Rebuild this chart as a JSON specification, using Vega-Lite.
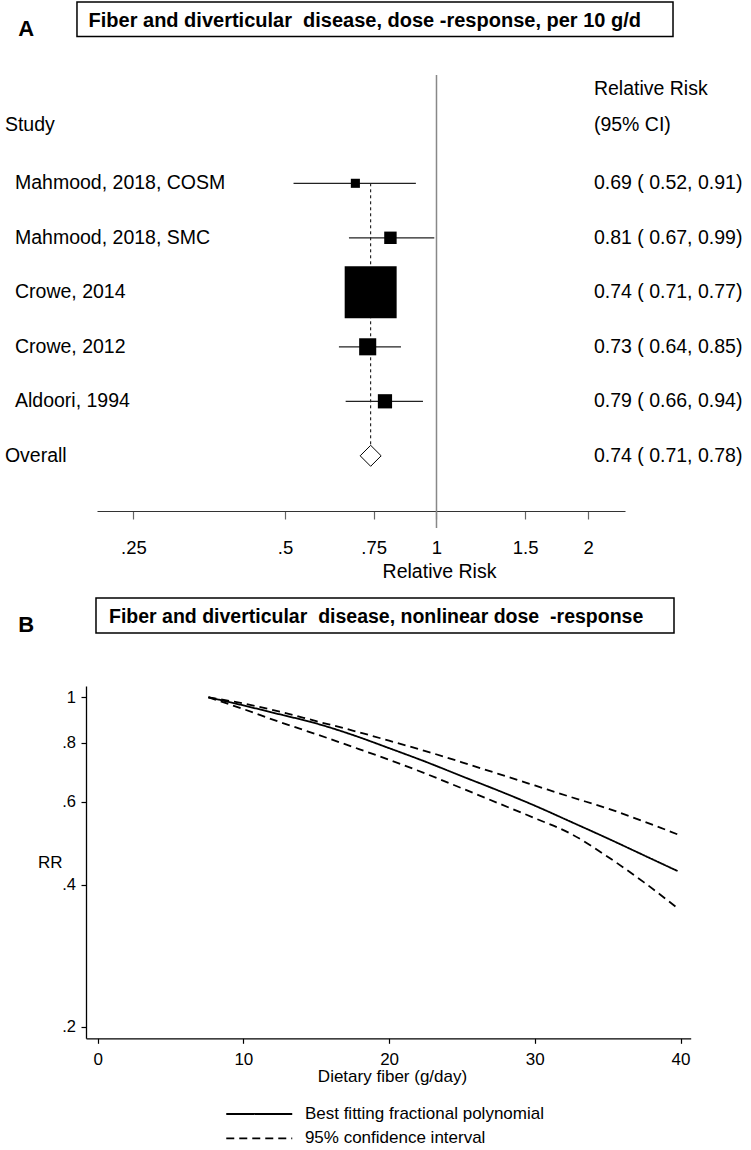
{
  "$schema": "https://vega.github.io/schema/vega-lite/v6.json",
  "padding": 0,
  "spacing": 0,
  "bounds": "flush",
  "background": "white",
  "config": {"view": {"stroke": null}, "font": "Liberation Sans", "axis": {"grid": false}},
  "datasets": {
    "studies": [
      {"study": "Mahmood, 2018, COSM", "row": 1, "rr": 0.69, "lo": 0.52, "hi": 0.91, "weight": 2.4, "label": "0.69 ( 0.52, 0.91)", "kind": "study"},
      {"study": "Mahmood, 2018, SMC", "row": 2, "rr": 0.81, "lo": 0.67, "hi": 0.99, "weight": 4.5, "label": "0.81 ( 0.67, 0.99)", "kind": "study"},
      {"study": "Crowe, 2014", "row": 3, "rr": 0.74, "lo": 0.71, "hi": 0.77, "weight": 78.7, "label": "0.74 ( 0.71, 0.77)", "kind": "study"},
      {"study": "Crowe, 2012", "row": 4, "rr": 0.73, "lo": 0.64, "hi": 0.85, "weight": 8.5, "label": "0.73 ( 0.64, 0.85)", "kind": "study"},
      {"study": "Aldoori, 1994", "row": 5, "rr": 0.79, "lo": 0.66, "hi": 0.94, "weight": 5.9, "label": "0.79 ( 0.66, 0.94)", "kind": "study"},
      {"study": "Overall", "row": 6, "rr": 0.74, "lo": 0.71, "hi": 0.78, "weight": 100, "label": "0.74 ( 0.71, 0.78)", "kind": "overall"}
    ],
    "curves": [
      {"fiber": 7.6, "rr": 1.0, "curve": "fit", "series": "Best fitting fractional polynomial"},
      {"fiber": 10, "rr": 0.961, "curve": "fit", "series": "Best fitting fractional polynomial"},
      {"fiber": 12.5, "rr": 0.920, "curve": "fit", "series": "Best fitting fractional polynomial"},
      {"fiber": 15, "rr": 0.880, "curve": "fit", "series": "Best fitting fractional polynomial"},
      {"fiber": 17.5, "rr": 0.832, "curve": "fit", "series": "Best fitting fractional polynomial"},
      {"fiber": 20, "rr": 0.780, "curve": "fit", "series": "Best fitting fractional polynomial"},
      {"fiber": 22.5, "rr": 0.730, "curve": "fit", "series": "Best fitting fractional polynomial"},
      {"fiber": 25, "rr": 0.680, "curve": "fit", "series": "Best fitting fractional polynomial"},
      {"fiber": 27.5, "rr": 0.634, "curve": "fit", "series": "Best fitting fractional polynomial"},
      {"fiber": 30, "rr": 0.589, "curve": "fit", "series": "Best fitting fractional polynomial"},
      {"fiber": 32.5, "rr": 0.544, "curve": "fit", "series": "Best fitting fractional polynomial"},
      {"fiber": 35, "rr": 0.502, "curve": "fit", "series": "Best fitting fractional polynomial"},
      {"fiber": 37.5, "rr": 0.462, "curve": "fit", "series": "Best fitting fractional polynomial"},
      {"fiber": 39.8, "rr": 0.428, "curve": "fit", "series": "Best fitting fractional polynomial"},
      {"fiber": 7.6, "rr": 1.0, "curve": "upper", "series": "95% confidence interval"},
      {"fiber": 10, "rr": 0.970, "curve": "upper", "series": "95% confidence interval"},
      {"fiber": 12.5, "rr": 0.932, "curve": "upper", "series": "95% confidence interval"},
      {"fiber": 15, "rr": 0.890, "curve": "upper", "series": "95% confidence interval"},
      {"fiber": 17.5, "rr": 0.850, "curve": "upper", "series": "95% confidence interval"},
      {"fiber": 20, "rr": 0.809, "curve": "upper", "series": "95% confidence interval"},
      {"fiber": 22.5, "rr": 0.769, "curve": "upper", "series": "95% confidence interval"},
      {"fiber": 25, "rr": 0.728, "curve": "upper", "series": "95% confidence interval"},
      {"fiber": 27.5, "rr": 0.688, "curve": "upper", "series": "95% confidence interval"},
      {"fiber": 30, "rr": 0.650, "curve": "upper", "series": "95% confidence interval"},
      {"fiber": 32.5, "rr": 0.614, "curve": "upper", "series": "95% confidence interval"},
      {"fiber": 35, "rr": 0.581, "curve": "upper", "series": "95% confidence interval"},
      {"fiber": 37.5, "rr": 0.545, "curve": "upper", "series": "95% confidence interval"},
      {"fiber": 39.8, "rr": 0.512, "curve": "upper", "series": "95% confidence interval"},
      {"fiber": 7.6, "rr": 1.0, "curve": "lower", "series": "95% confidence interval"},
      {"fiber": 10, "rr": 0.944, "curve": "lower", "series": "95% confidence interval"},
      {"fiber": 12.5, "rr": 0.886, "curve": "lower", "series": "95% confidence interval"},
      {"fiber": 15, "rr": 0.835, "curve": "lower", "series": "95% confidence interval"},
      {"fiber": 17.5, "rr": 0.785, "curve": "lower", "series": "95% confidence interval"},
      {"fiber": 20, "rr": 0.737, "curve": "lower", "series": "95% confidence interval"},
      {"fiber": 22.5, "rr": 0.689, "curve": "lower", "series": "95% confidence interval"},
      {"fiber": 25, "rr": 0.641, "curve": "lower", "series": "95% confidence interval"},
      {"fiber": 27.5, "rr": 0.596, "curve": "lower", "series": "95% confidence interval"},
      {"fiber": 30, "rr": 0.554, "curve": "lower", "series": "95% confidence interval"},
      {"fiber": 32.5, "rr": 0.513, "curve": "lower", "series": "95% confidence interval"},
      {"fiber": 35, "rr": 0.459, "curve": "lower", "series": "95% confidence interval"},
      {"fiber": 37.5, "rr": 0.405, "curve": "lower", "series": "95% confidence interval"},
      {"fiber": 39.8, "rr": 0.357, "curve": "lower", "series": "95% confidence interval"}
    ]
  },
  "vconcat": [
    {
      "width": 751,
      "height": 511,
      "layer": [
        {
          "data": {"values": [{}]},
          "mark": {"type": "rect", "fill": "white", "stroke": "black", "strokeWidth": 1.5},
          "encoding": {
            "x": {"datum": 0.1931, "type": "quantitative",
              "scale": {"type": "log", "domain": [0.21162, 2.3686], "range": [97, 625], "nice": false, "zero": false},
              "axis": {
                "values": [0.25, 0.5, 0.75, 1, 1.5, 2],
                "labelExpr": "datum.value < 1 ? substring(toString(datum.value), 1) : toString(datum.value)",
                "title": "Relative Risk", "titleX": 439, "titleY": 51, "titleAlign": "center", "titleBaseline": "top",
                "titleFontSize": 19.5, "titleFontWeight": "normal", "titleColor": "black",
                "labelFontSize": 18.5, "labelColor": "black", "labelPadding": 19, "labelFlush": false, "labelOverlap": false,
                "tickSize": 8, "tickColor": "#666666", "tickWidth": 1.2,
                "domainColor": "#333333", "domainWidth": 1.2, "grid": false
              }},
            "x2": {"datum": 2.9503},
            "y": {"datum": -2.327, "type": "quantitative", "scale": {"domain": [-2.3633, 7.0128], "reverse": true, "nice": false, "zero": false}, "axis": null},
            "y2": {"datum": -1.694}
          }
        },
        {
          "data": {"values": [{}]},
          "mark": {"type": "text", "text": "Fiber and diverticular\u00a0 disease, dose -response, per 10 g/d", "fontSize": 20, "fontWeight": "bold", "align": "left", "baseline": "middle", "color": "black"},
          "encoding": {
            "x": {"datum": 0.2036, "type": "quantitative"},
            "y": {"datum": -1.978, "type": "quantitative", "axis": null}
          }
        },
        {
          "data": {"values": [{}]},
          "mark": {"type": "text", "text": "A", "fontSize": 22, "fontWeight": "bold", "align": "center", "baseline": "middle", "color": "black"},
          "encoding": {
            "x": {"datum": 0.1531, "type": "quantitative"},
            "y": {"datum": -1.837, "type": "quantitative", "axis": null}
          }
        },
        {
          "data": {"values": [{}]},
          "mark": {"type": "text", "text": "Relative Risk", "fontSize": 19.5, "align": "left", "baseline": "middle", "color": "black"},
          "encoding": {
            "x": {"datum": 2.0544, "type": "quantitative"},
            "y": {"datum": -0.736, "type": "quantitative", "axis": null}
          }
        },
        {
          "data": {"values": [{}]},
          "mark": {"type": "text", "text": "(95% CI)", "fontSize": 19.5, "align": "left", "baseline": "middle", "color": "black"},
          "encoding": {
            "x": {"datum": 2.0544, "type": "quantitative"},
            "y": {"datum": -0.07, "type": "quantitative", "axis": null}
          }
        },
        {
          "data": {"values": [{}]},
          "mark": {"type": "text", "text": "Study", "fontSize": 19.5, "align": "left", "baseline": "middle", "color": "black"},
          "encoding": {
            "x": {"datum": 0.13889, "type": "quantitative"},
            "y": {"datum": -0.07, "type": "quantitative", "axis": null}
          }
        },
        {
          "data": {"values": [{}]},
          "mark": {"type": "rule", "color": "#888888", "strokeWidth": 1.5},
          "encoding": {
            "x": {"datum": 1, "type": "quantitative"},
            "y": {"datum": -0.987, "type": "quantitative", "axis": null},
            "y2": {"datum": 7.325}
          }
        },
        {
          "data": {"name": "studies"},
          "transform": [{"filter": "datum.kind == 'overall'"}],
          "mark": {"type": "rule", "color": "black", "strokeWidth": 1, "strokeDash": [3, 3]},
          "encoding": {
            "x": {"field": "rr", "type": "quantitative"},
            "y": {"datum": 1, "type": "quantitative", "axis": null},
            "y2": {"datum": 6.169}
          }
        },
        {
          "data": {"name": "studies"},
          "transform": [{"filter": "datum.kind == 'study'"}],
          "mark": {"type": "rule", "color": "#222222", "strokeWidth": 1.2},
          "encoding": {
            "x": {"field": "lo", "type": "quantitative"},
            "x2": {"field": "hi"},
            "y": {"field": "row", "type": "quantitative", "axis": null}
          }
        },
        {
          "data": {"name": "studies"},
          "transform": [{"filter": "datum.kind == 'study'"}],
          "mark": {"type": "point", "shape": "square", "filled": true, "color": "black", "opacity": 1},
          "encoding": {
            "x": {"field": "rr", "type": "quantitative"},
            "y": {"field": "row", "type": "quantitative", "axis": null},
            "size": {"field": "weight", "type": "quantitative", "scale": {"domain": [0, 78.7], "range": [0, 2700]}, "legend": null}
          }
        },
        {
          "data": {"name": "studies"},
          "transform": [{"filter": "datum.kind == 'overall'"}],
          "mark": {"type": "point", "shape": "diamond", "filled": true, "fill": "white", "stroke": "black", "strokeWidth": 1, "size": 440, "opacity": 1},
          "encoding": {
            "x": {"field": "rr", "type": "quantitative"},
            "y": {"field": "row", "type": "quantitative", "axis": null}
          }
        },
        {
          "data": {"name": "studies"},
          "transform": [{"filter": "datum.kind == 'study'"}],
          "mark": {"type": "text", "fontSize": 19.5, "align": "left", "baseline": "middle", "color": "black"},
          "encoding": {
            "x": {"datum": 0.14542, "type": "quantitative"},
            "y": {"field": "row", "type": "quantitative", "axis": null},
            "text": {"field": "study"}
          }
        },
        {
          "data": {"name": "studies"},
          "transform": [{"filter": "datum.kind == 'overall'"}],
          "mark": {"type": "text", "fontSize": 19.5, "align": "left", "baseline": "middle", "color": "black"},
          "encoding": {
            "x": {"datum": 0.13889, "type": "quantitative"},
            "y": {"field": "row", "type": "quantitative", "axis": null},
            "text": {"field": "study"}
          }
        },
        {
          "data": {"name": "studies"},
          "mark": {"type": "text", "fontSize": 19.5, "align": "left", "baseline": "middle", "color": "black"},
          "encoding": {
            "x": {"datum": 2.0544, "type": "quantitative"},
            "y": {"field": "row", "type": "quantitative", "axis": null},
            "text": {"field": "label"}
          }
        }
      ]
    },
    {
      "width": 751,
      "height": 527.3,
      "layer": [
        {
          "data": {"values": [{}]},
          "mark": {"type": "rect", "fill": "white", "stroke": "black", "strokeWidth": 1.5},
          "encoding": {
            "x": {"datum": -0.114, "type": "quantitative"},
            "x2": {"datum": 39.554},
            "y": {"datum": 1.6236, "type": "quantitative"},
            "y2": {"datum": 1.3689}
          }
        },
        {
          "data": {"values": [{}]},
          "mark": {"type": "text", "text": "Fiber and diverticular\u00a0 disease, nonlinear dose\u00a0 -response", "fontSize": 19.5, "fontWeight": "bold", "align": "left", "baseline": "middle", "color": "black"},
          "encoding": {
            "x": {"datum": 0.778, "type": "quantitative"},
            "y": {"datum": 1.482, "type": "quantitative"}
          }
        },
        {
          "data": {"values": [{}]},
          "mark": {"type": "text", "text": "B", "fontSize": 22, "fontWeight": "bold", "align": "center", "baseline": "middle", "color": "black"},
          "encoding": {
            "x": {"datum": -4.897, "type": "quantitative"},
            "y": {"datum": 1.4254, "type": "quantitative"}
          }
        },
        {
          "data": {"name": "curves"},
          "mark": {"type": "line", "interpolate": "monotone", "color": "black", "strokeWidth": 1.8},
          "encoding": {
            "x": {"field": "fiber", "type": "quantitative",
              "scale": {"domain": [-0.8, 40.7], "range": [86, 690.7], "nice": false, "zero": false},
              "axis": {
                "values": [0, 10, 20, 30, 40], "title": "Dietary fiber (g/day)",
                "titleX": 392, "titleY": 30.5, "titleAlign": "center", "titleBaseline": "top",
                "titleFontSize": 17, "titleFontWeight": "normal", "titleColor": "black",
                "labelFontSize": 17, "labelColor": "black", "labelPadding": 8.5, "labelFlush": false,
                "tickSize": 5, "tickColor": "black", "tickWidth": 1.2,
                "domainColor": "black", "domainWidth": 1.3, "grid": false
              }},
            "y": {"field": "rr", "type": "quantitative",
              "scale": {"type": "log", "domain": [0.1891, 1.0566], "range": [527.3, 175], "nice": false, "zero": false},
              "axis": {
                "values": [0.2, 0.4, 0.6, 0.8, 1], "offset": -86,
                "labelExpr": "datum.value < 1 ? substring(toString(datum.value), 1) : toString(datum.value)",
                "title": "RR", "titleAngle": 0, "titleAlign": "right", "titleBaseline": "middle", "titleX": -24, "titleY": 351,
                "titleFontSize": 17, "titleFontWeight": "normal", "titleColor": "black",
                "labelFontSize": 16.5, "labelColor": "black", "labelPadding": 5.5, "labelFlush": false,
                "tickSize": 5, "tickColor": "black", "tickWidth": 1.2,
                "domainColor": "black", "domainWidth": 1.3, "grid": false
              }},
            "detail": {"field": "curve"},
            "strokeDash": {"field": "series", "type": "nominal",
              "scale": {"domain": ["Best fitting fractional polynomial", "95% confidence interval"], "range": [[1, 0], [8, 5]]},
              "legend": {
                "title": null, "orient": "none", "legendX": 249.75, "legendY": 1104.5,
                "symbolType": "M-4,0H4", "symbolSize": 272, "symbolStrokeWidth": 1.8, "symbolStrokeColor": "black", "symbolFillColor": "transparent",
                "labelFontSize": 17, "labelColor": "black", "labelOffset": 36.15, "rowPadding": 6.4, "padding": 0, "labelLimit": 400
              }}
          }
        }
      ]
    }
  ]
}
